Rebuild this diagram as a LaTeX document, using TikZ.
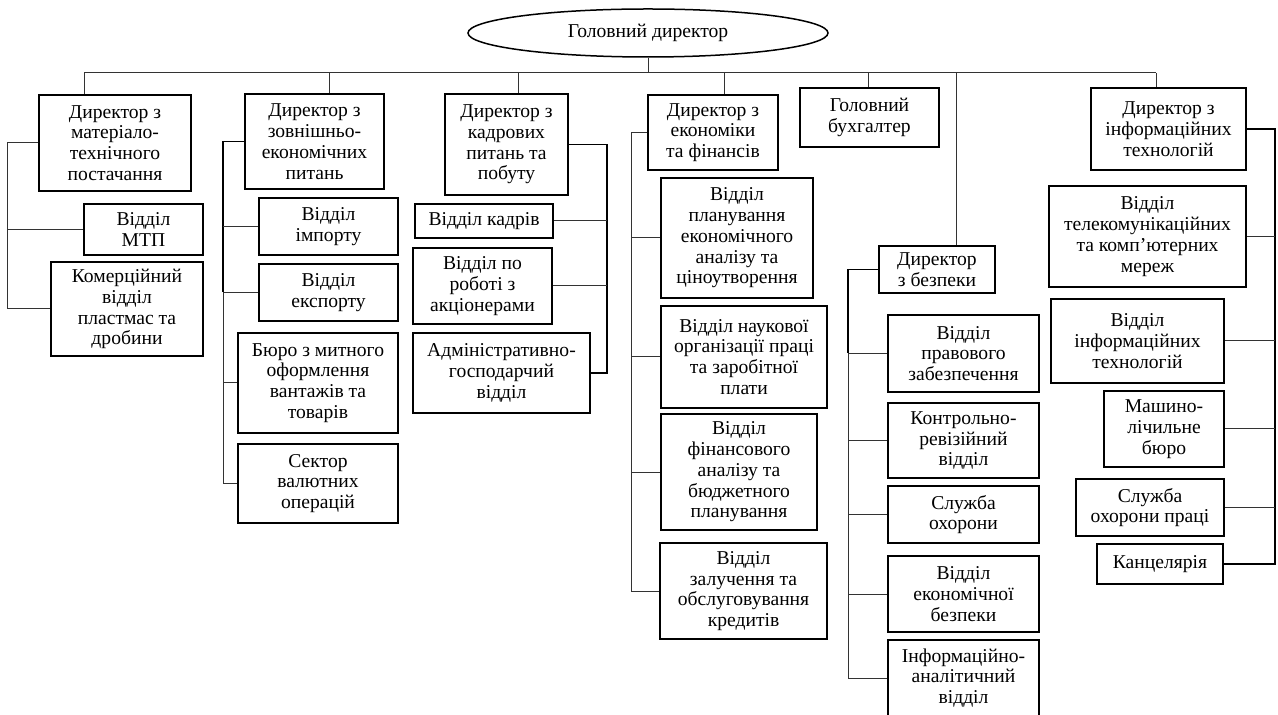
\documentclass[tikz,border=0pt]{standalone}
\usepackage{fontspec}
\setmainfont{Liberation Serif}
\usetikzlibrary{shapes.geometric}
\tikzset{
  box/.style={draw=black, line width=0.75pt, align=center, inner sep=1pt, font=\fontsize{9.8}{10.4}\selectfont},
  conn/.style={draw=black!80, line width=0.5pt},
  spine/.style={draw=black, line width=0.8pt},
}
\newcommand\bx[6]{\node[box, minimum width={(#4-#2)*0.5pt}, minimum height={(#5-#3)*0.5pt}] (#1) at ({(#2+#4)/2},{(#3+#5)/2}) {#6};}
\begin{document}
\begin{tikzpicture}[x=0.5pt,y=-0.5pt]
\useasboundingbox (0,0) rectangle (1278,715);
% top
\node[ellipse, draw, line width=0.75pt, minimum width=180pt, minimum height=24pt, inner sep=0pt, font=\fontsize{9.8}{10.4}\selectfont] (gd) at (648,33) {Головний директор};
% directors
\bx{d1}{39}{95}{191}{191}{Директор з\\матеріало-\\технічного\\постачання}
\bx{d2}{245}{94}{384}{189}{Директор з\\зовнішньо-\\економічних\\питань}
\bx{d3}{445}{94}{568}{195}{Директор з\\кадрових\\питань та\\побуту}
\bx{d4}{648}{95}{778}{170}{Директор з\\економіки\\та фінансів}
\bx{gb}{800}{88}{939}{147}{Головний\\бухгалтер}
\bx{ds}{879}{246}{995}{293}{Директор\\з безпеки}
\bx{d7}{1091}{88}{1246}{170}{Директор з\\інформаційних\\технологій}
% group 1
\bx{a1}{84}{204}{203}{255}{Відділ\\МТП}
\bx{a2}{51}{262}{203}{356}{Комерційний\\відділ\\пластмас та\\дробини}
% group 2
\bx{b1}{259}{198}{398}{255}{Відділ\\імпорту}
\bx{b2}{259}{264}{398}{321}{Відділ\\експорту}
\bx{b3}{238}{333}{398}{433}{Бюро з митного\\оформлення\\вантажів та\\товарів}
\bx{b4}{238}{444}{398}{523}{Сектор\\валютних\\операцій}
% group 3
\bx{c1}{415}{204}{553}{238}{Відділ кадрів}
\bx{c2}{413}{248}{552}{324}{Відділ по\\роботі з\\акціонерами}
\bx{c3}{413}{333}{590}{413}{Адміністративно-\\господарчий\\відділ}
% group 4
\bx{e1}{661}{178}{813}{298}{Відділ\\планування\\економічного\\аналізу та\\ціноутворення}
\bx{e2}{661}{306}{827}{408}{Відділ наукової\\організації праці\\та заробітної\\плати}
\bx{e3}{661}{414}{817}{530}{Відділ\\фінансового\\аналізу та\\бюджетного\\планування}
\bx{e4}{660}{543}{827}{639}{Відділ\\залучення та\\обслуговування\\кредитів}
% security
\bx{f1}{888}{315}{1039}{392}{Відділ\\правового\\забезпечення}
\bx{f2}{888}{403}{1039}{478}{Контрольно-\\ревізійний\\відділ}
\bx{f3}{888}{486}{1039}{543}{Служба\\охорони}
\bx{f4}{888}{556}{1039}{632}{Відділ\\економічної\\безпеки}
\bx{f5}{888}{640}{1039}{716}{Інформаційно-\\аналітичний\\відділ}
% IT
\bx{g1}{1049}{186}{1246}{287}{Відділ\\телекомунікаційних\\та комп’ютерних\\мереж}
\bx{g2}{1051}{299}{1224}{383}{Відділ\\інформаційних\\технологій}
\bx{g3}{1104}{391}{1224}{467}{Машино-\\лічильне\\бюро}
\bx{g4}{1076}{479}{1224}{536}{Служба\\охорони праці}
\bx{g5}{1097}{544}{1223}{584}{Канцелярія}
% bus
\coordinate (x1) at (84,73);
\coordinate (x2) at (329,73);
\coordinate (x3) at (518,73);
\coordinate (x4) at (724,73);
\coordinate (x5) at (868,73);
\coordinate (x6) at (956,73);
\coordinate (x7) at (1156,73);
\draw[conn] (x1) -- (x7);
\draw[conn] (gd.south) -- (gd.south |- x1);
\draw[conn] (x1) -- (x1 |- d1.north);
\draw[conn] (x2) -- (x2 |- d2.north);
\draw[conn] (x3) -- (x3 |- d3.north);
\draw[conn] (x4) -- (x4 |- d4.north);
\draw[conn] (x5) -- (x5 |- gb.north);
\draw[conn] (x6) -- (x6 |- ds.north);
\draw[conn] (x7) -- (x7 |- d7.north);
% spines
\coordinate (s1) at (7,0);
\coordinate (s2) at (223,0);
\coordinate (s3) at (607,0);
\coordinate (s4) at (631,0);
\coordinate (s5) at (848,0);
\coordinate (s6) at (1275,0);
% group 1
\draw[conn] (d1.west) -| (s1 |- a2.west) -- (a2.west);
\draw[conn] (s1 |- a1.west) -- (a1.west);
% group 2
\draw[spine] (d2.west) -| (s2 |- b2.west);
\draw[conn] (s2 |- b2.west) -- (s2 |- b4.west) -- (b4.west);
\draw[conn] (s2 |- b1.west) -- (b1.west);
\draw[conn] (s2 |- b2.west) -- (b2.west);
\draw[conn] (s2 |- b3.west) -- (b3.west);
% group 3
\draw[spine] (d3.east) -| (s3 |- c3.east) -- (c3.east);
\draw[conn] (s3 |- c1.east) -- (c1.east);
\draw[conn] (s3 |- c2.east) -- (c2.east);
% group 4
\draw[conn] (d4.west) -| (s4 |- e4.west) -- (e4.west);
\draw[conn] (s4 |- e1.west) -- (e1.west);
\draw[conn] (s4 |- e2.west) -- (e2.west);
\draw[conn] (s4 |- e3.west) -- (e3.west);
% security
\draw[spine] (ds.west) -| (s5 |- f1.west);
\draw[conn] (s5 |- f1.west) -- (s5 |- f5.west) -- (f5.west);
\draw[conn] (s5 |- f1.west) -- (f1.west);
\draw[conn] (s5 |- f2.west) -- (f2.west);
\draw[conn] (s5 |- f3.west) -- (f3.west);
\draw[conn] (s5 |- f4.west) -- (f4.west);
% IT
\draw[spine] (d7.east) -| (s6 |- g5.east) -- (g5.east);
\draw[conn] (s6 |- g1.east) -- (g1.east);
\draw[conn] (s6 |- g2.east) -- (g2.east);
\draw[conn] (s6 |- g3.east) -- (g3.east);
\draw[conn] (s6 |- g4.east) -- (g4.east);
\end{tikzpicture}
\end{document}
